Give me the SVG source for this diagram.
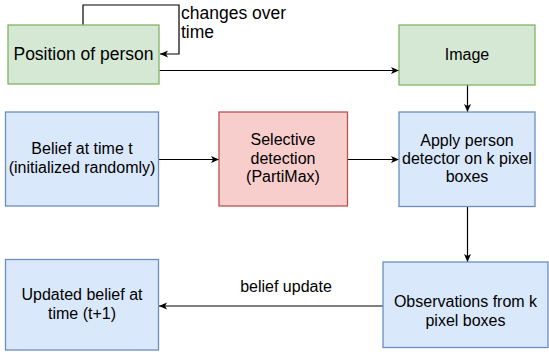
<svg xmlns="http://www.w3.org/2000/svg" width="549" height="356" viewBox="0 0 549 356">
<style>
.green{fill:#d5e8d4;stroke:#82b366;stroke-width:1.3}
.blue{fill:#dae8fc;stroke:#6c8ebf;stroke-width:1.3}
.red{fill:#f8cecc;stroke:#b85450;stroke-width:1.3}
text{font-family:"Liberation Sans",Arial,Helvetica,sans-serif;font-size:16px;fill:#000;text-anchor:middle}
.big{font-size:17.5px}
.edge{fill:none;stroke:#000;stroke-width:1.2}
</style>
<defs>
<marker id="arr" viewBox="0 0 8 8" refX="8" refY="4" markerWidth="8" markerHeight="8" markerUnits="userSpaceOnUse" orient="auto">
<path d="M0,0.5 L8,4 L0,7.5 L2,4 Z" fill="#000"/>
</marker>
</defs>
<rect width="549" height="356" fill="#fff"/>
<g id="connectors">
<path class="edge" d="M83,25 V5 H179 V54 H160" marker-end="url(#arr)"/>
<path class="edge" d="M159.5,70.5 H399" marker-end="url(#arr)"/>
<path class="edge" d="M467.5,85 V112" marker-end="url(#arr)"/>
<path class="edge" d="M158.5,159.5 H219" marker-end="url(#arr)"/>
<path class="edge" d="M347.5,159.5 H399" marker-end="url(#arr)"/>
<path class="edge" d="M467.5,206.5 V262" marker-end="url(#arr)"/>
<path class="edge" d="M383,306 H159" marker-end="url(#arr)"/>
<text x="181" y="19" class="big" style="text-anchor:start">changes over</text>
<text x="181" y="38" class="big" style="text-anchor:start">time</text>
<text x="286" y="292">belief update</text>
</g>
<g id="position">
<rect class="green" x="8" y="25" width="151" height="59"/>
<text x="83.5" y="60" class="big">Position of person</text>
</g>
<g id="image">
<rect class="green" x="399" y="25" width="136" height="60"/>
<text x="467" y="60">Image</text>
</g>
<g id="belief">
<rect class="blue" x="5.5" y="112" width="153" height="94"/>
<text x="82" y="154">Belief at time t</text>
<text x="82" y="173">(initialized randomly)</text>
</g>
<g id="selective">
<rect class="red" x="219" y="112" width="128.5" height="94"/>
<text x="283" y="145">Selective</text>
<text x="283" y="164">detection</text>
<text x="283" y="182">(PartiMax)</text>
</g>
<g id="apply">
<rect class="blue" x="399" y="112" width="136" height="94.5"/>
<text x="467" y="145.5">Apply person</text>
<text x="467" y="164">detector on k pixel</text>
<text x="467" y="182">boxes</text>
</g>
<g id="observations">
<rect class="blue" x="383" y="262" width="165" height="85.5"/>
<text x="465.5" y="307">Observations from k</text>
<text x="465.5" y="326">pixel boxes</text>
</g>
<g id="updated">
<rect class="blue" x="5.5" y="259.5" width="153" height="90.5"/>
<text x="82" y="300">Updated belief at</text>
<text x="82" y="319">time (t+1)</text>
</g>
</svg>
